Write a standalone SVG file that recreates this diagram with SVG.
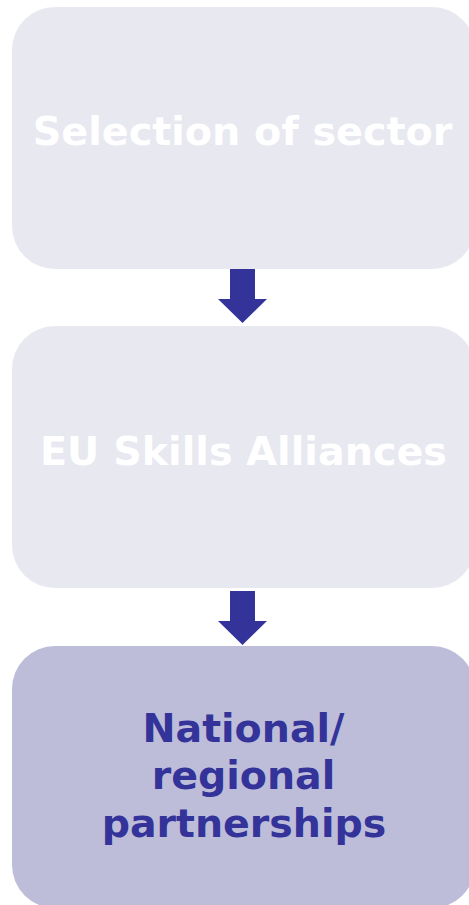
<svg xmlns="http://www.w3.org/2000/svg" width="469" height="905" viewBox="0 0 469 905">
<style>
.box{fill:#E8E8F1}
.box3{fill:#BDBDDA}
.lt{font-family:"DejaVu Sans",Verdana,sans-serif;font-weight:bold;font-size:39.7px;text-anchor:middle;fill:#FFFFFF}
.dk{font-family:"DejaVu Sans",Verdana,sans-serif;font-weight:bold;font-size:39.5px;text-anchor:middle;fill:#333399}
.arr{fill:#333399}
</style>
<rect width="469" height="905" fill="#FFFFFF"/>
<g id="node-selection">
<rect class="box" x="12" y="7" width="463" height="262" rx="43" ry="43"/>
<text class="lt" x="242.5" y="145">Selection of sector</text>
</g>
<g id="node-eu">
<rect class="box" x="12" y="326" width="463" height="262" rx="43" ry="43"/>
<text class="lt" x="243.5" y="465">EU Skills Alliances</text>
</g>
<g id="node-national">
<rect class="box3" x="12" y="646" width="463" height="262" rx="43" ry="43"/>
<text class="dk" x="243.5" y="742">National/</text>
<text class="dk" x="243.5" y="789">regional</text>
<text class="dk" x="244" y="837">partnerships</text>
</g>
<g id="connectors">
<polygon class="arr" points="230,269 255,269 255,299 267,299 242.5,323 218,299 230,299"/>
<polygon class="arr" points="230,591 255,591 255,621 267,621 242.5,645 218,621 230,621"/>
</g>
</svg>
